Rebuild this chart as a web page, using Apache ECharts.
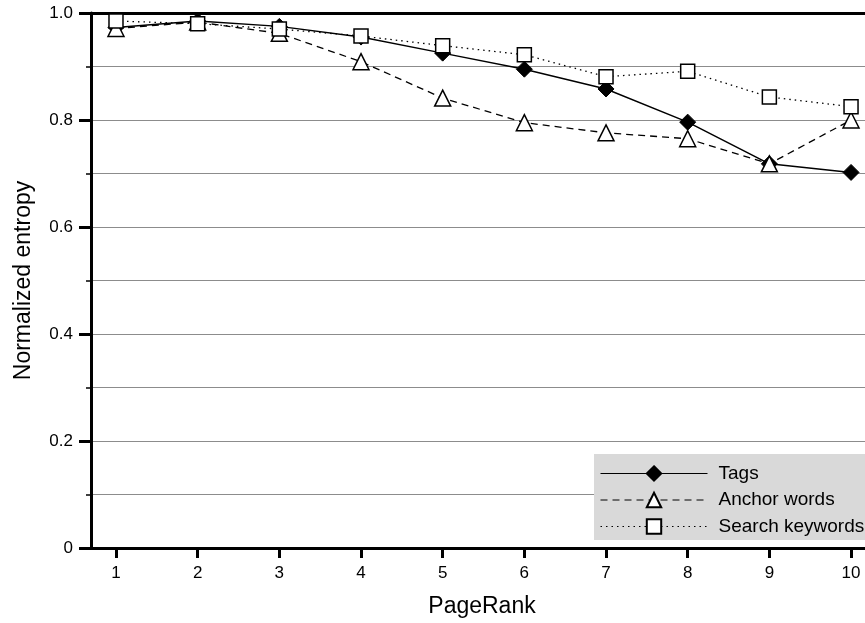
<!DOCTYPE html>
<html>
<head>
<meta charset="utf-8">
<script src="https://cdn.jsdelivr.net/npm/echarts@6/dist/echarts.min.js"></script>
<style>
  html, body { margin: 0; padding: 0; background: #fff; }
  #chart { width: 865px; height: 623px; }
</style>
</head>
<body>
<div id="chart"></div>
<script>
  var pageRank = [1, 2, 3, 4, 5, 6, 7, 8, 9, 10];
  var tags = [0.973, 0.985, 0.975, 0.955, 0.925, 0.895, 0.858, 0.796, 0.718, 0.702];
  var anchorWords = [0.971, 0.983, 0.962, 0.909, 0.841, 0.795, 0.776, 0.765, 0.718, 0.800];
  var searchKeywords = [0.985, 0.980, 0.970, 0.957, 0.939, 0.922, 0.881, 0.891, 0.843, 0.825];

  function pairs(vals) {
    return vals.map(function (v, i) { return [pageRank[i], v]; });
  }

  var font = 'Liberation Sans, Arial, Helvetica, sans-serif';
  var chart = echarts.init(document.getElementById('chart'));

  chart.setOption({
    animation: false,
    textStyle: { fontFamily: font, color: '#000' },
    grid: { left: 91, top: 13, right: 0, bottom: 74 },
    xAxis: [
      {
        type: 'value',
        min: 0.694,
        max: 10.171,
        name: 'PageRank',
        nameLocation: 'middle',
        nameGap: 47,
        nameTextStyle: { fontSize: 23, color: '#000', fontFamily: font, padding: [0, 0, 0, 8] },
        axisLine: { lineStyle: { color: '#000', width: 3 } },
        axisTick: { length: 10, lineStyle: { color: '#000', width: 3 }, customValues: pageRank },
        axisLabel: { customValues: pageRank, fontSize: 17, color: '#000', margin: 17, fontFamily: font },
        splitLine: { show: false }
      },
      {
        // top border of the plot
        type: 'value',
        position: 'top',
        min: 0.694,
        max: 10.171,
        axisLine: { lineStyle: { color: '#000', width: 3 } },
        axisTick: { show: false },
        axisLabel: { show: false },
        splitLine: { show: false }
      }
    ],
    yAxis: {
      type: 'value',
      min: 0,
      max: 1,
      interval: 0.2,
      name: 'Normalized entropy',
      nameLocation: 'middle',
      nameGap: 56,
      nameTextStyle: { fontSize: 23, color: '#000', fontFamily: font },
      axisLine: { show: true, lineStyle: { color: '#000', width: 3 } },
      axisTick: { show: true, length: 12, lineStyle: { color: '#000', width: 3 } },
      minorTick: { show: true, splitNumber: 2, length: 5, lineStyle: { color: '#000', width: 1.5 } },
      axisLabel: {
        fontSize: 17, color: '#000', margin: 18, fontFamily: font,
        formatter: function (v) { return v === 0 ? '0' : v.toFixed(1); }
      },
      splitLine: { show: true, lineStyle: { color: '#8c8c8c', width: 1 } },
      minorSplitLine: { show: true, lineStyle: { color: '#8c8c8c', width: 1 } }
    },
    legend: {
      orient: 'vertical',
      left: 594,
      top: 454,
      backgroundColor: '#d9d9d9',
      padding: [10, 40, 4, 6],
      itemWidth: 107,
      itemHeight: 18,
      itemGap: 7.5,
      lineStyle: { width: 1 },
      textStyle: { fontSize: 19, color: '#000', fontFamily: font, padding: [0, 0, 0, 6] },
      data: ['Tags', 'Anchor words', 'Search keywords']
    },
    series: [
      {
        name: 'Tags',
        type: 'line',
        data: pairs(tags),
        symbol: 'diamond',
        symbolSize: 16,
        lineStyle: { color: '#000', width: 1.5, type: 'solid' },
        itemStyle: { color: '#000', borderColor: '#000', borderWidth: 1 }
      },
      {
        name: 'Anchor words',
        type: 'line',
        data: pairs(anchorWords),
        symbol: 'triangle',
        symbolSize: 16,
        lineStyle: { color: '#000', width: 1.3, type: [7, 5] },
        itemStyle: { color: '#fff', borderColor: '#000', borderWidth: 1.5 }
      },
      {
        name: 'Search keywords',
        type: 'line',
        data: pairs(searchKeywords),
        symbol: 'rect',
        symbolSize: 14,
        lineStyle: { color: '#000', width: 1.3, type: [1.5, 4] },
        itemStyle: { color: '#fff', borderColor: '#000', borderWidth: 1.5 }
      }
    ]
  });
</script>
</body>
</html>
